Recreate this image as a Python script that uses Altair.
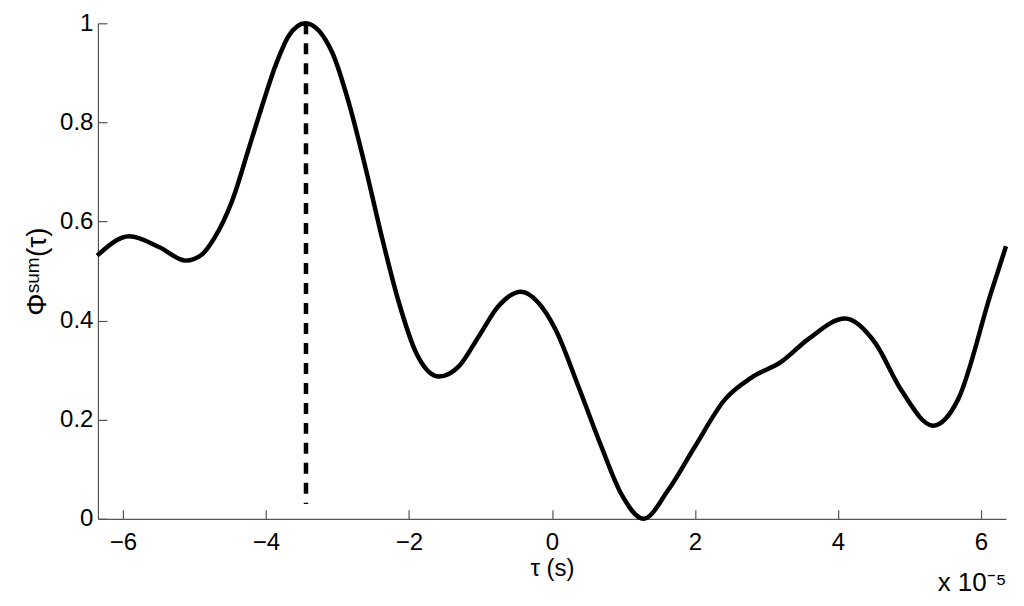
import altair as alt
import pandas as pd

# tau in units of 1e-5 s
tau = [-6.36, -5.91, -5.49, -5.12, -4.90, -4.72, -4.47, -4.23, -4.05, -3.86,
       -3.68, -3.45, -3.07, -2.84, -2.60, -2.38, -2.14, -1.90, -1.58, -1.30,
       -1.02, -0.75, -0.43, -0.19, 0.05, 0.37, 0.69, 0.97, 1.28, 1.63,
       2.00, 2.42, 2.79, 3.21, 3.58, 4.10, 4.52, 4.88, 5.33, 5.68,
       6.14, 6.35]
phi = [0.531, 0.570, 0.548, 0.521, 0.533, 0.567, 0.643, 0.752, 0.835, 0.917,
       0.975, 1.000, 0.940, 0.839, 0.704, 0.569, 0.436, 0.335, 0.287, 0.308,
       0.369, 0.429, 0.458, 0.436, 0.382, 0.267, 0.146, 0.050, 0.000, 0.059,
       0.146, 0.241, 0.285, 0.317, 0.362, 0.404, 0.355, 0.261, 0.188, 0.241,
       0.456, 0.550]

peak_tau = [-3.44]
peak_top = [1.0]
peak_bottom = [0.03]

x_ticks = [-6, -4, -2, 0, 2, 4, 6]
y_ticks = [0, 0.2, 0.4, 0.6, 0.8, 1]

W, H = 909, 496
FONT = "Liberation Sans"
AXC = "#555555"

df = pd.DataFrame({"tau": tau, "phi": phi})
dfp = pd.DataFrame({"tau": peak_tau, "top": peak_top, "bottom": peak_bottom})

xscale = alt.Scale(domain=[-6.35, 6.35], nice=False, zero=False)
yscale = alt.Scale(domain=[0, 1], nice=False, zero=False)

line = alt.Chart(df).mark_line(color="black", strokeWidth=4.5, interpolate="monotone").encode(
    x=alt.X("tau:Q", scale=xscale, axis=alt.Axis(
        orient="bottom", values=x_ticks, format="~g", ticks=False, grid=False,
        domainColor=AXC, domainWidth=1.2,
        labelFont=FONT, labelFontSize=24, labelColor="black", labelPadding=12,
        title="τ  (s)", titleFont=FONT, titleFontSize=24, titleFontWeight="normal",
        titleColor="black", titlePadding=2)),
    y=alt.Y("phi:Q", scale=yscale, axis=alt.Axis(
        orient="left", values=y_ticks, format="~g", ticks=False, grid=False,
        domainColor=AXC, domainWidth=1.2,
        labelFont=FONT, labelFontSize=24, labelColor="black", labelPadding=5,
        title="Φˢᵘᵐ(τ)", titleFont=FONT, titleFontSize=28, titleFontWeight="normal",
        titleColor="black", titlePadding=8)),
)

rule = alt.Chart(dfp).mark_rule(color="black", strokeWidth=4.5, strokeDash=[11, 9]).encode(
    x=alt.X("tau:Q", scale=xscale, axis=alt.Axis(
        orient="bottom", offset=-9, values=x_ticks, tickSize=9, tickColor=AXC, tickWidth=1.2,
        labels=False, domain=False, grid=False,
        title="x 10⁻⁵", titleFont=FONT, titleFontSize=26, titleFontWeight="normal",
        titleColor="black", titleX=W, titleY=81, titleAlign="right",
        titleBaseline="alphabetic", titleAnchor="end")),
    y=alt.Y("top:Q", scale=yscale, axis=alt.Axis(
        orient="left", offset=-9, values=y_ticks, tickSize=9, tickColor=AXC, tickWidth=1.2,
        labels=False, domain=False, grid=False, title="")),
    y2="bottom:Q",
)

chart = alt.layer(line, rule).resolve_axis(x="independent", y="independent").properties(
    width=W, height=H,
    autosize=alt.AutoSizeParams(type="none"),
    padding={"left": 90, "top": 15, "right": 10, "bottom": 80},
    background="white",
).configure_view(stroke=None)

chart.save("out.html", embed_options={"renderer": "svg", "actions": False})
